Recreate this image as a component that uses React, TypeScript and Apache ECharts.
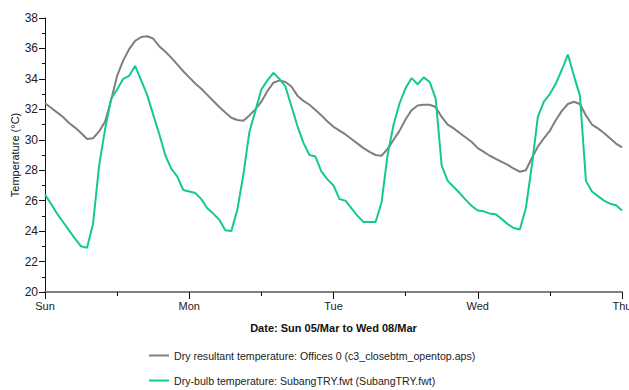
import React, { useEffect, useRef } from "react";
import * as echarts from "echarts";

const dayLabels = ["Sun", "Mon", "Tue", "Wed", "Thu"];
const yTicks = [20, 22, 24, 26, 28, 30, 32, 34, 36, 38];

const seriesNames = [
  "Dry resultant temperature: Offices 0 (c3_closebtm_opentop.aps)",
  "Dry-bulb temperature: SubangTRY.fwt (SubangTRY.fwt)",
];
const seriesColors = ["#7f7f7f", "#14c896"];

// hourly values, Sun 00:00 .. Thu 00:00
const dryResultant = [
  32.4, 32.1, 31.8, 31.5, 31.1, 30.8, 30.45, 30.05, 30.1, 30.55, 31.2, 32.6,
  34.2, 35.2, 35.95, 36.5, 36.75, 36.8, 36.65, 36.15, 35.8, 35.4, 34.95, 34.5,
  34.1, 33.7, 33.35, 32.95, 32.55, 32.15, 31.8, 31.45, 31.3, 31.25, 31.6, 32.0,
  32.5, 33.2, 33.75, 33.9, 33.8, 33.5, 32.9, 32.55, 32.3, 31.95, 31.6, 31.2,
  30.85, 30.6, 30.35, 30.05, 29.75, 29.45, 29.2, 29.0, 28.95, 29.4, 30.0, 30.6,
  31.35, 31.95, 32.25, 32.3, 32.3, 32.15, 31.5, 31.0, 30.75, 30.45, 30.15, 29.85,
  29.45, 29.2, 28.95, 28.75, 28.55, 28.35, 28.1, 27.9, 28.0, 28.8, 29.55, 30.1,
  30.6, 31.3, 31.9, 32.35, 32.5, 32.35, 31.6, 31.0, 30.75, 30.45, 30.1, 29.75,
  29.5,
];

const dryBulb = [
  26.4, 25.8, 25.15, 24.6, 24.05, 23.5, 23.0, 22.9, 24.5, 28.3, 30.7, 32.7,
  33.3, 34.0, 34.2, 34.85, 33.9, 32.95, 31.65, 30.4, 29.0, 28.1, 27.6, 26.7,
  26.6, 26.5, 26.1, 25.5, 25.15, 24.75, 24.05, 24.0, 25.4, 27.7, 30.5, 31.9,
  33.3, 33.9, 34.4, 34.0, 33.5, 32.2, 30.9, 29.8, 29.0, 28.9, 27.9, 27.4,
  27.0, 26.1, 26.0, 25.5, 25.0, 24.6, 24.6, 24.6, 25.9, 29.0, 31.0, 32.4,
  33.4, 34.05, 33.65, 34.1, 33.8, 32.7, 28.3, 27.3, 26.9, 26.5, 26.05, 25.65,
  25.35, 25.3, 25.15, 25.1, 24.8, 24.45, 24.2, 24.1, 25.5, 28.3, 31.5, 32.5,
  33.0, 33.7, 34.6, 35.6, 34.2, 32.9, 27.3, 26.6, 26.3, 26.0, 25.8, 25.7,
  25.35,
];

const FONT = "Liberation Sans, Arial, sans-serif";

export default function App() {
  const ref = useRef<HTMLDivElement>(null);
  useEffect(() => {
    if (!ref.current) return;
    const chart = echarts.init(ref.current, undefined, { renderer: "svg" });
    const toPairs = (arr: number[]) => arr.map((v, i) => [i, v]);
    const legendTops = [345, 370];
    chart.setOption({
      animation: false,
      textStyle: { fontFamily: FONT },
      grid: {
        left: 45,
        right: 7,
        top: 18,
        bottom: 98,
        containLabel: false,
        outerBoundsMode: "none",
      },
      legend: seriesNames.map((name, i) => ({
        orient: "vertical",
        left: 144,
        top: legendTops[i],
        icon: "rect",
        itemWidth: 20,
        itemHeight: 2,
        itemGap: 4,
        textStyle: { fontSize: 10.6, color: "#222", fontFamily: FONT },
        data: [name],
      })),
      xAxis: {
        type: "value",
        min: 0,
        max: 96,
        interval: 24,
        name: "Date: Sun 05/Mar to Wed 08/Mar",
        nameLocation: "middle",
        nameGap: 30,
        nameTextStyle: { fontSize: 11, fontWeight: "bold", color: "#111", fontFamily: FONT },
        axisLine: { lineStyle: { color: "#808080", width: 2 } },
        axisTick: { show: true, length: 7, lineStyle: { color: "#111", width: 1 } },
        minorTick: { show: true, splitNumber: 2, length: 4, lineStyle: { color: "#111", width: 1 } },
        splitLine: { show: false },
        axisLabel: {
          fontSize: 11,
          color: "#222",
          margin: 8,
          formatter: (v: number) => dayLabels[Math.round(v / 24)] ?? "",
        },
      },
      yAxis: {
        type: "value",
        min: yTicks[0],
        max: yTicks[yTicks.length - 1],
        interval: 2,
        name: "Temperature (°C)",
        nameLocation: "middle",
        nameGap: 25,
        nameMoveOverlap: false,
        nameTextStyle: { fontSize: 11, color: "#111", fontFamily: FONT },
        axisLine: { show: true, lineStyle: { color: "#111", width: 1 } },
        axisTick: { show: true, length: 6, lineStyle: { color: "#111" } },
        minorTick: { show: true, splitNumber: 2, length: 3, lineStyle: { color: "#111" } },
        splitLine: { show: false },
        axisLabel: { fontSize: 12, color: "#222", margin: 7 },
      },
      series: [
        {
          name: seriesNames[0],
          type: "line",
          data: toPairs(dryResultant),
          symbol: "none",
          lineStyle: { color: seriesColors[0], width: 2 },
          itemStyle: { color: seriesColors[0] },
          z: 2,
        },
        {
          name: seriesNames[1],
          type: "line",
          data: toPairs(dryBulb),
          symbol: "none",
          lineStyle: { color: seriesColors[1], width: 2 },
          itemStyle: { color: seriesColors[1] },
          z: 3,
        },
      ],
    });
    return () => chart.dispose();
  }, []);
  return (
    <div
      ref={ref}
      style={{ position: "fixed", left: 0, top: 0, width: 629, height: 390, background: "#fff" }}
    />
  );
}
